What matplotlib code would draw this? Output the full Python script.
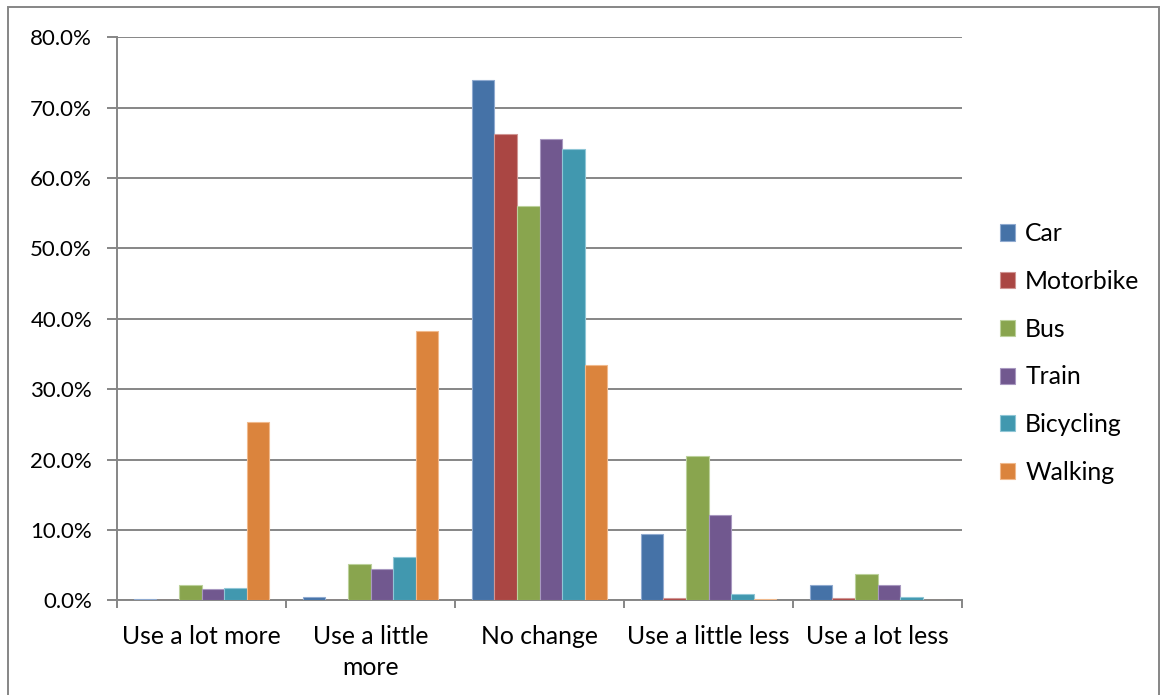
import numpy as np
import matplotlib
matplotlib.use('Agg')
import matplotlib.pyplot as plt
from matplotlib.patches import Rectangle
from matplotlib.ticker import FixedLocator, PercentFormatter

plt.rcParams['font.family'] = ['Lato', 'DejaVu Sans']

# Survey answers per transport mode (percent of respondents)
categories = ['Use a lot more', 'Use a little\nmore', 'No change', 'Use a little less', 'Use a lot less']
modes = ['Car', 'Motorbike', 'Bus', 'Train', 'Bicycling', 'Walking']
car = [0.2, 0.4, 73.9, 9.4, 2.1]
motorbike = [0.1, 0.1, 66.3, 0.3, 0.3]
bus = [2.1, 5.1, 56.0, 20.5, 3.7]
train = [1.6, 4.4, 65.6, 12.1, 2.1]
bicycling = [1.8, 6.1, 64.1, 0.85, 0.5]
walking = [25.3, 38.3, 33.4, 0.2, 0.05]
series = [car, motorbike, bus, train, bicycling, walking]
colors = ['#4572A7', '#AA4643', '#89A54E', '#71588F', '#4198AF', '#DB843D']
edges = ['#8FAAD0', '#D09593', '#BCD19B', '#A898C0', '#8FC6D6', '#F0B98C']

fig = plt.figure(figsize=(11.61, 6.95), dpi=100)
ax = fig.add_axes([0.1008, 0.1363, 0.7278, 0.8100])

x = np.arange(len(categories))
width = 1 / 7.5
for i, (vals, name) in enumerate(zip(series, modes)):
    ax.bar(x + (i - 2.5) * width, vals, width, color=colors[i], edgecolor=edges[i],
           linewidth=0.8, label=name, zorder=3)

ax.set_xlim(-0.5, len(categories) - 0.5)
ax.set_ylim(0, 80)
ax.set_yticks(np.arange(0, 81, 10))
ax.yaxis.set_major_formatter(PercentFormatter(decimals=1))
ax.grid(axis='y', color='#868686', linewidth=1.4, zorder=0)

ax.set_xticks(x)
ax.set_xticklabels(categories, fontsize=17.8, linespacing=1.4)
ax.xaxis.set_minor_locator(FixedLocator(np.arange(-0.5, len(categories), 1)))
ax.tick_params(axis='x', which='major', length=0, pad=18)
ax.tick_params(axis='x', which='minor', length=6, width=1.4, color='#868686')
ax.tick_params(axis='y', length=7, width=1.4, color='#868686', pad=11, labelsize=16)

for side in ['top', 'right']:
    ax.spines[side].set_visible(False)
for side in ['left', 'bottom']:
    ax.spines[side].set_color('#868686')
    ax.spines[side].set_linewidth(1.4)

ax.legend(loc='center left', bbox_to_anchor=(1000 / 1161, 1 - 353 / 695),
          bbox_transform=fig.transFigure, frameon=False, fontsize=17.8,
          borderpad=0, borderaxespad=0, handlelength=0.62, handleheight=0.62,
          handletextpad=0.4, labelspacing=1.0)

# thin frame around the whole chart
fig.patches.append(Rectangle((8 / 1161, -0.01), 1151 / 1161, 1 - 7 / 695 + 0.01,
                             transform=fig.transFigure, fill=False,
                             edgecolor='#868686', linewidth=1.4))

fig.savefig('out.png', dpi=100)
